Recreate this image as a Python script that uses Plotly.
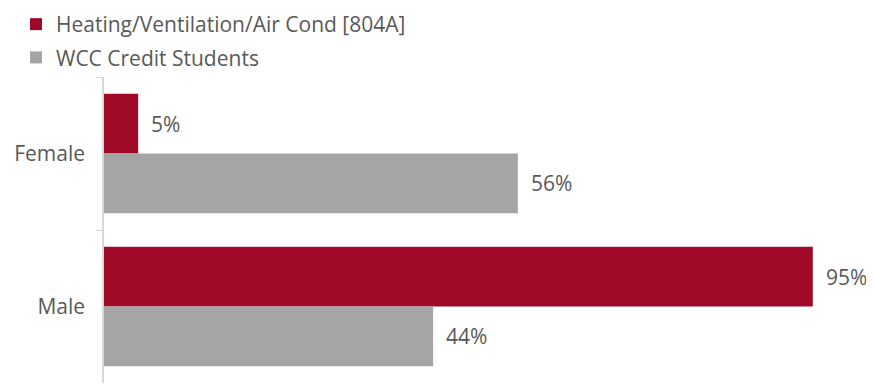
import plotly.graph_objects as go

categories = ["Female", "Male"]
series_names = ["Heating/Ventilation/Air Cond [804A]", "WCC Credit Students"]
hvac_values = [4.6, 95.4]
wcc_values = [55.7, 44.3]
colors = ["#9E0A28", "#A5A5A5"]

FONT = "Open Sans"
FS = 21
TXT = "#595959"

# page has an 8px body margin; work in figure coordinates
OFF = 8
W, H = 874 - OFF, 385 - OFF
ML = 104 - OFF
MT = 77 - OFF
MB = 2
MR = 30
XMAX = 99.6

fig = go.Figure()
for i, (name, vals) in enumerate(zip(series_names, [hvac_values, wcc_values])):
    fig.add_trace(go.Bar(
        y=categories, x=vals, name=name, orientation="h",
        marker=dict(color=colors[i], line=dict(width=0)),
        legendgroup=f"g{i}", hoverinfo="skip",
    ))

annotations = []
for i, vals in enumerate([hvac_values, wcc_values]):
    shift = 30 if i == 0 else -29
    for j, v in enumerate(vals):
        annotations.append(dict(
            x=v, y=j, xref="x", yref="y", text=f"{round(v)}%",
            showarrow=False, xanchor="left", yanchor="middle",
            xshift=11, yshift=shift,
            font=dict(family=FONT, size=FS, color=TXT),
        ))

pw = W - ML - MR
ph = H - MT - MB
shapes = [
    dict(type="line", xref="paper", yref="paper",
         x0=(872 - OFF - ML) / pw, x1=(872 - OFF - ML) / pw, y0=-0.1, y1=1.3,
         line=dict(color="#D9D9D9", width=1.5)),
]

fig.update_layout(
    width=W, height=H,
    margin=dict(l=ML, r=MR, t=MT, b=MB, autoexpand=False),
    paper_bgcolor="white", plot_bgcolor="white",
    barmode="group", bargap=0.22, bargroupgap=0,
    font=dict(family=FONT, size=FS, color=TXT),
    showlegend=True,
    legend=dict(
        x=(8 - ML) / pw, xanchor="left", xref="paper",
        y=1 + (MT + 4) / ph, yanchor="top", yref="paper",
        traceorder="grouped", tracegroupgap=3,
        font=dict(family=FONT, size=FS, color=TXT),
        bgcolor="rgba(0,0,0,0)", itemclick=False,
    ),
    xaxis=dict(range=[0, XMAX], showgrid=False, showline=False,
               showticklabels=False, zeroline=False, ticks=""),
    yaxis=dict(autorange="reversed", showline=True, linecolor="#D9D9D9",
               linewidth=1.5, ticks="outside", tickson="boundaries",
               ticklen=6, tickcolor="#D9D9D9", showgrid=False,
               ticklabelstandoff=13,
               tickfont=dict(family=FONT, size=FS, color=TXT)),
    annotations=annotations,
    shapes=shapes,
)

fig.write_html("out.html")
